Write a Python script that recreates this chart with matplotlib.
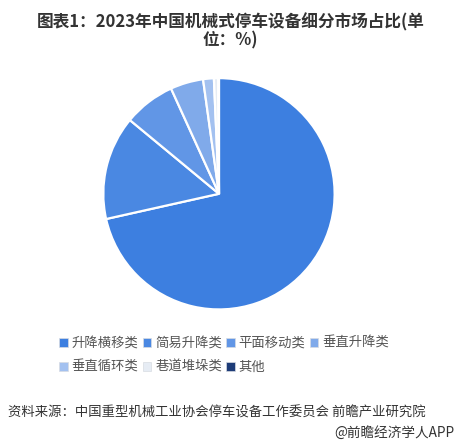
import matplotlib
matplotlib.use("Agg")
import matplotlib.pyplot as plt

plt.rcParams['font.family'] = ['Noto Sans CJK SC', 'DejaVu Sans']

categories = ["升降横移类", "简易升降类", "平面移动类", "垂直升降类", "垂直循环类", "巷道堆垛类", "其他"]
values = [71.5, 14.5, 7.2, 4.6, 1.5, 0.6, 0.1]
colors = ["#3D7FE0", "#4A88E2", "#6196E6", "#80AAEA", "#A3C1F0", "#E6ECF4", "#1E3C78"]

title_text = "图表1：2023年中国机械式停车设备细分市场占比(单\n位：%)"
source_text = "资料来源：中国重型机械工业协会停车设备工作委员会 前瞻产业研究院"
credit_text = "@前瞻经济学人APP"

fig = plt.figure(figsize=(4.61, 4.46), dpi=100)
fig.patch.set_facecolor("white")

ax = fig.add_axes([0.219, 0.301, 0.512, 0.529])
wedges, _ = ax.pie(values, colors=colors, startangle=90, counterclock=False,
                   wedgeprops=dict(edgecolor="white", linewidth=1.6))
ax.set_xlim(-1.02, 1.02)
ax.set_ylim(-1.02, 1.02)
ax.set_aspect("equal")
ax.axis("off")

fig.text(0.5, 0.97, title_text, ha="center", va="top", fontsize=12,
         fontweight="bold", color="#333333", linespacing=1.0)

# row-major order for a 4-column legend
order = [0, 4, 1, 5, 2, 6, 3]
leg = fig.legend([wedges[i] for i in order], [categories[i] for i in order],
                 loc="upper left", bbox_to_anchor=(0.128, 0.247),
                 ncol=4, frameon=False, fontsize=9.6, handlelength=0.65, handleheight=0.65,
                 handletextpad=0.3, columnspacing=0.3, labelspacing=0.75,
                 borderpad=0, borderaxespad=0)
for t in leg.get_texts():
    t.set_color("#555555")
for h in leg.legend_handles:
    h.set_edgecolor("#D8DCE2")
    h.set_linewidth(0.5)

fig.text(0.017, 0.076, source_text, ha="left", va="center", fontsize=9.6, color="#333333")
fig.text(0.985, 0.03, credit_text, ha="right", va="center", fontsize=9.8, color="#333333")

fig.savefig("out.png", dpi=100, facecolor="white")
